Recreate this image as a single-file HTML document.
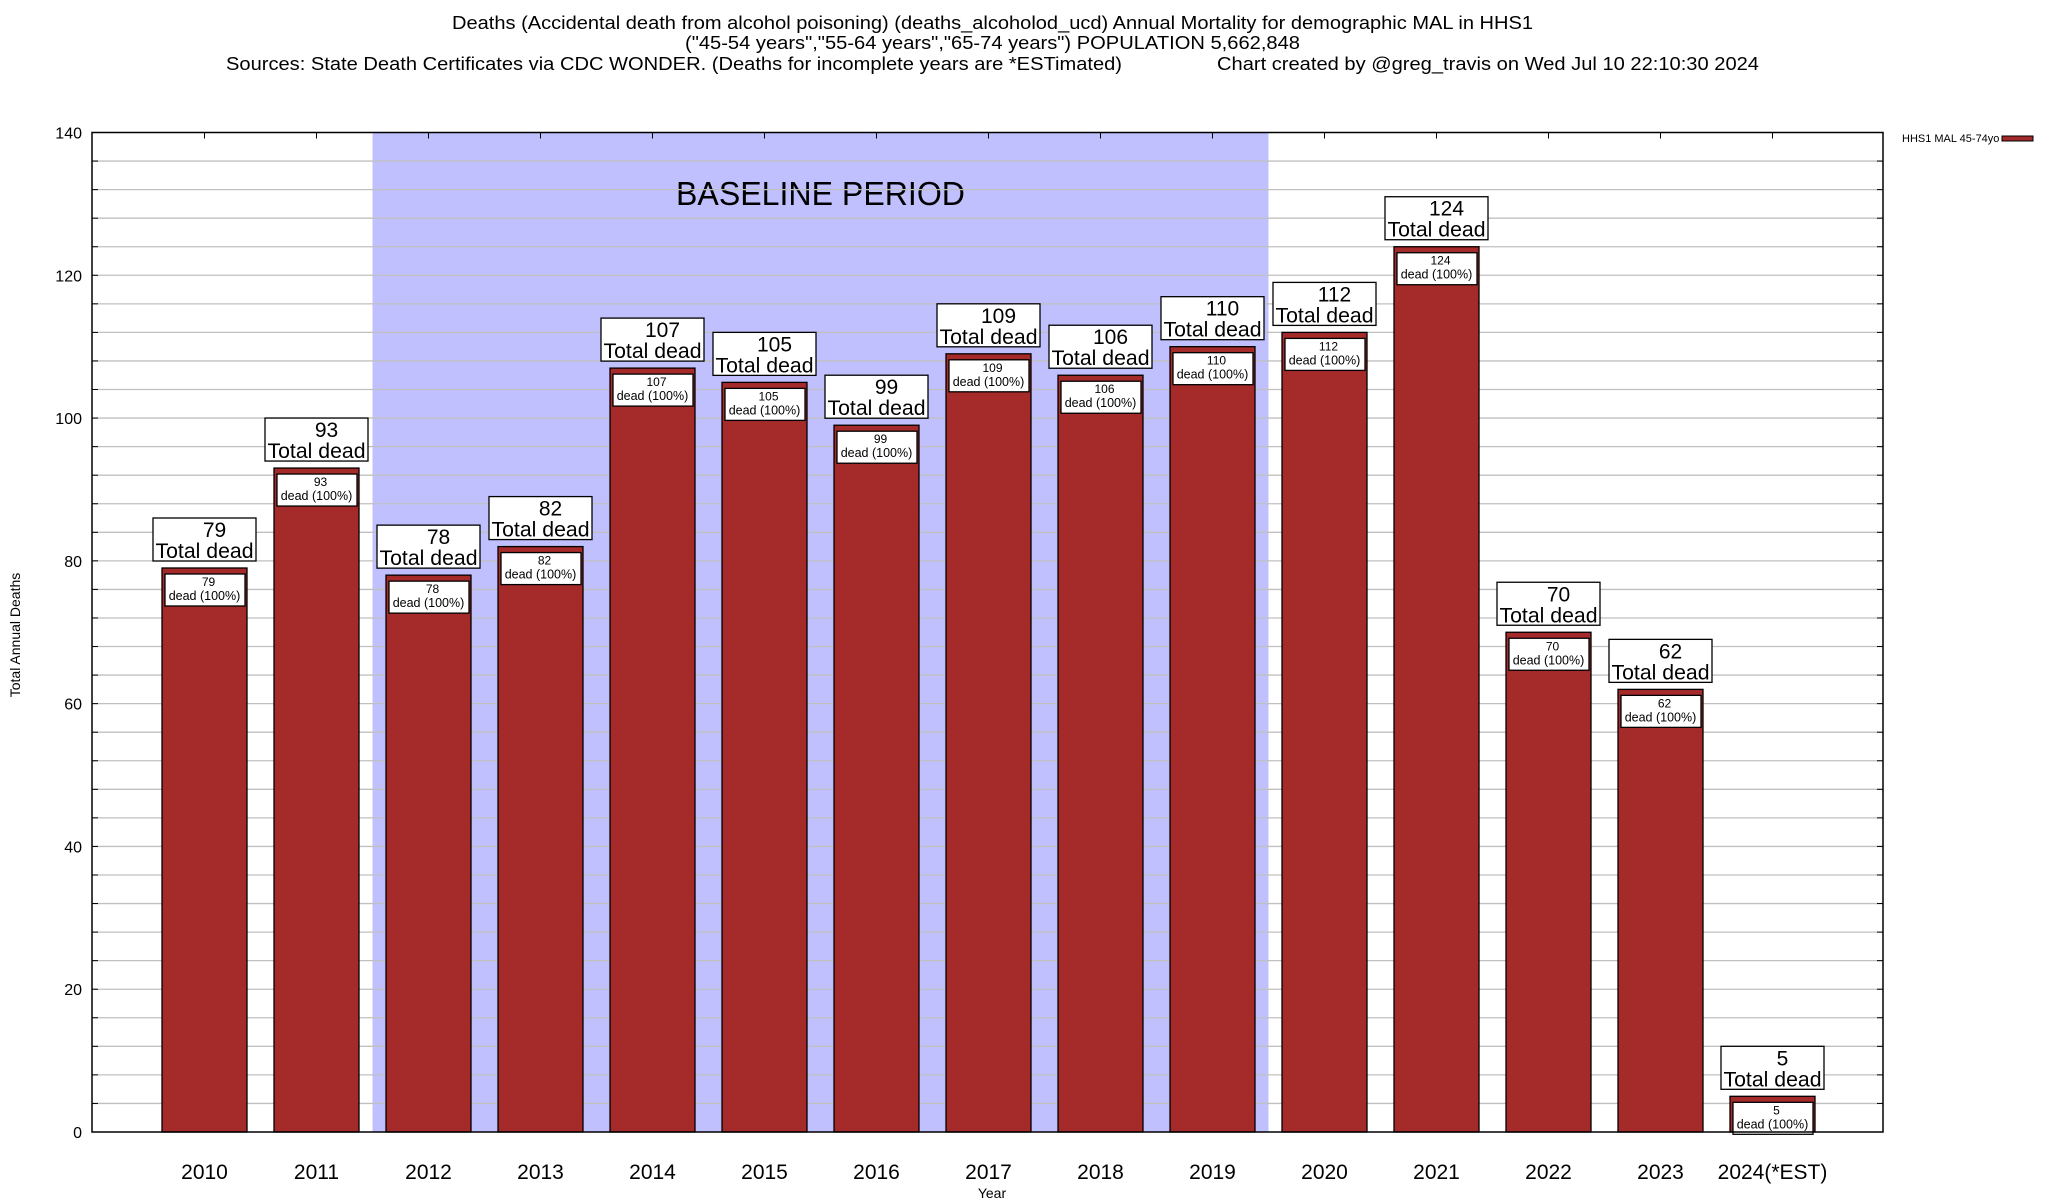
<!DOCTYPE html>
<html><head><meta charset="utf-8"><style>
html,body{margin:0;padding:0;background:#fff}
svg{display:block;font-family:"Liberation Sans",sans-serif}
</style></head><body>
<svg id="chart" width="2048" height="1200" viewBox="0 0 2048 1200" xmlns="http://www.w3.org/2000/svg">
<g>
<text x="452" y="29" font-size="18" textLength="1081" lengthAdjust="spacingAndGlyphs">Deaths (Accidental death from alcohol poisoning) (deaths_alcoholod_ucd) Annual Mortality for demographic MAL in HHS1</text>
<text x="685" y="49" font-size="18" textLength="615" lengthAdjust="spacingAndGlyphs">("45-54 years","55-64 years","65-74 years") POPULATION 5,662,848</text>
<text x="226" y="70" font-size="18" textLength="896" lengthAdjust="spacingAndGlyphs">Sources: State Death Certificates via CDC WONDER. (Deaths for incomplete years are *ESTimated)</text>
<text x="1217" y="70" font-size="18" textLength="542" lengthAdjust="spacingAndGlyphs">Chart created by @greg_travis on Wed Jul 10 22:10:30 2024</text>
</g>
<g id="plot"></g>
<text transform="translate(20,635) rotate(-90)" text-anchor="middle" font-size="14">Total Annual Deaths</text>
<text x="992" y="1198" text-anchor="middle" font-size="14">Year</text>
<g>
<text x="1902" y="142" font-size="11">HHS1 MAL 45-74yo</text>
<rect x="2002" y="136" width="31" height="5" fill="#a52a2a" stroke="#000" stroke-width="1"/>
</g>
</svg>
<script>
const categories = ["2010","2011","2012","2013","2014","2015","2016","2017","2018","2019","2020","2021","2022","2023","2024(*EST)"];
const values = [79,93,78,82,107,105,99,109,106,110,112,124,70,62,5];
const yTicks = [0,20,40,60,80,100,120,140];
const baselineRange = ["2012","2019"];

const NS="http://www.w3.org/2000/svg";
const L=92,R=1883,T=132.5,B=1132,yMax=140;
const x0=204.5,step=112.0,bw=85;
function y(v){return B-(v/yMax)*(B-T);}
function xc(i){return x0+i*step;}
const g=document.getElementById('plot');
function el(tag,attrs,parent){const e=document.createElementNS(NS,tag);for(const k in attrs)e.setAttribute(k,attrs[k]);(parent||g).appendChild(e);return e;}

const bi0=categories.indexOf(baselineRange[0]),bi1=categories.indexOf(baselineRange[1]);
const sh=el('rect',{x:xc(bi0)-step/2,y:T,width:(bi1-bi0+1)*step,height:B-T,fill:'#c0c0ff'});


const bt=el('text',{x:(xc(bi0)+xc(bi1))/2,y:205,'text-anchor':'middle','font-size':33,textLength:289,lengthAdjust:'spacingAndGlyphs'});
bt.textContent='BASELINE PERIOD';



for(let v=4;v<yMax;v+=4){
  const gl=el('line',{x1:L,x2:R,y1:y(v),y2:y(v),stroke:'#c0c0c0','stroke-width':1.3});
  
  
  el('line',{x1:L,x2:L+6,y1:y(v),y2:y(v),stroke:'#000','stroke-width':1});
  el('line',{x1:R-6,x2:R,y1:y(v),y2:y(v),stroke:'#000','stroke-width':1});
}
yTicks.forEach(v=>{
  const t=el('text',{x:82,y:y(v)+6,'text-anchor':'end','font-size':16});
  t.textContent=v;
  
  
});

categories.forEach((c,i)=>{
  const v=values[i],cx=xc(i),top=y(v);
  el('line',{x1:cx,x2:cx,y1:T,y2:T+6,stroke:'#000','stroke-width':1});
  const b=el('rect',{x:cx-bw/2,y:top,width:bw,height:B-top,fill:'#a52a2a',stroke:'#000','stroke-width':1.3});
  
  
  const ib=el('rect',{x:cx-bw/2+3,y:top+6,width:bw-5,height:32,fill:'#fff',stroke:'#000','stroke-width':1.3});
  
  
  const t1=el('text',{x:cx+4,y:top+18,'text-anchor':'middle','font-size':12});t1.textContent=v;
  const t2=el('text',{x:cx,y:top+32,'text-anchor':'middle','font-size':12.5});t2.textContent='dead (100%)';
  const ob=el('rect',{x:cx-51.5,y:top-50,width:103,height:43,fill:'#fff',stroke:'#000','stroke-width':1.3});
  
  
  const t3=el('text',{x:cx+10,y:top-31,'text-anchor':'middle','font-size':21});t3.textContent=v;
  const t4=el('text',{x:cx,y:top-10,'text-anchor':'middle','font-size':21.5,textLength:98,lengthAdjust:'spacingAndGlyphs'});t4.textContent='Total dead';
  const xl=el('text',{x:cx,y:1179,'text-anchor':'middle','font-size':21});xl.textContent=c;
  
  
});
const fr=el('rect',{x:L,y:T,width:R-L,height:B-T,fill:'none',stroke:'#000','stroke-width':1.5});


</script>
</body></html>
